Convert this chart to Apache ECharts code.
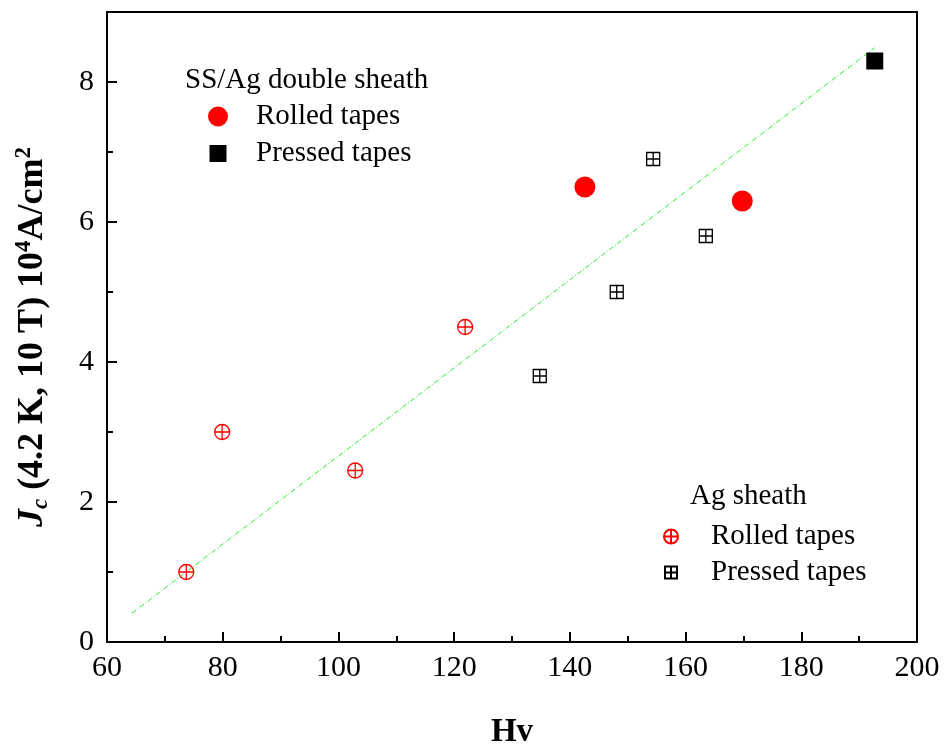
<!DOCTYPE html>
<html>
<head>
<meta charset="utf-8">
<script src="https://cdn.jsdelivr.net/npm/echarts@6/dist/echarts.min.js"></script>
<style>
  html, body { margin: 0; padding: 0; background: #fff; }
  #chart { width: 944px; height: 751px; }
</style>
</head>
<body>
<div id="chart"></div>
<script>
// data: [Hv, Jc]
const ssRolled = [[142.6, 6.5], [169.8, 6.3]]
const ssPressed = [[192.7, 8.3]]
const agRolled = [[73.7, 1.0], [79.9, 3.0], [102.9, 2.45], [121.9, 4.5]]
const agPressed = [[134.8, 3.8], [148.1, 5.0], [154.4, 6.9], [163.5, 5.8]]
const fitLine = [[64.3, 0.41], [192.7, 8.49]]
const xTicks = { min: 60, max: 200, step: 20 }
const yTicks = { min: 0, max: 9, step: 2 }

const FONT = 'Liberation Serif'
const crossCircle = 'path://M0,10A10,10 0 1,1 20,10A10,10 0 1,1 0,10ZM10,0L10,20M0,10L20,10'
const boxPlus = 'path://M0,0L20,0L20,20L0,20ZM10,0L10,20M0,10L20,10'

const chart = echarts.init(document.getElementById('chart'))

// one legend per entry so each icon keeps its own size; text starts at textX
function legendAt(name, cx, cy, size, textX) {
  return {
    data: [name], left: cx - size / 2, top: cy - 14, padding: 0, orient: 'vertical',
    itemWidth: size, itemHeight: size,
    selectedMode: false,
    formatter: n => n.replace(/^(SS\/Ag|Ag) /, ''),
    textStyle: {
      fontFamily: FONT, fontSize: 29, lineHeight: 28, color: '#000',
      padding: [0, 0, 0, textX - (cx + size / 2) - 5]
    }
  }
}

const option = {
  animation: false,
  backgroundColor: '#fff',
  textStyle: { fontFamily: FONT },
  grid: {
    left: 107, right: 27, top: 12, bottom: 109, outerBoundsMode: 'none',
    show: true, borderColor: '#000', borderWidth: 2
  },
  title: [
    { text: 'SS/Ag double sheath', left: 185, top: 66, padding: 0,
      textStyle: { fontFamily: FONT, fontSize: 29, lineHeight: 28, fontWeight: 'normal', color: '#000' } },
    { text: 'Ag sheath', left: 690, top: 482, padding: 0,
      textStyle: { fontFamily: FONT, fontSize: 29, lineHeight: 28, fontWeight: 'normal', color: '#000' } }
  ],
  legend: [
    legendAt('SS/Ag Rolled tapes', 218, 116, 20, 256),
    legendAt('SS/Ag Pressed tapes', 218, 153, 17, 256),
    legendAt('Ag Rolled tapes', 670, 536, 14, 710),
    legendAt('Ag Pressed tapes', 670, 572, 12, 710)
  ],
  xAxis: {
    type: 'value', min: xTicks.min, max: xTicks.max, interval: xTicks.step,
    name: 'Hv', nameLocation: 'middle', nameGap: 74,
    nameTextStyle: { fontFamily: FONT, fontSize: 33, fontWeight: 'bold', color: '#000' },
    axisLine: { lineStyle: { color: '#000', width: 2 } },
    axisTick: { inside: true, length: 10, lineStyle: { color: '#000', width: 2 } },
    minorTick: { show: true, splitNumber: 2, length: 6, lineStyle: { color: '#000', width: 2 } },
    axisLabel: { fontFamily: FONT, fontSize: 30, color: '#000', margin: 11 },
    splitLine: { show: false }
  },
  yAxis: [
    {
      type: 'value', min: yTicks.min, max: yTicks.max, interval: 1,
      name: '{j|J}{c|c}{n| (4.2 K, 10 T) 10}{s|4}{n|A/cm}{s|2}',
      nameLocation: 'middle', nameGap: 54, nameRotate: 90,
      nameTextStyle: {
        color: '#000',
        padding: [0, 20, 0, 0],
        rich: {
          j: { fontFamily: FONT, fontSize: 36, fontWeight: 'bold', fontStyle: 'italic', lineHeight: 40, color: '#000' },
          c: { fontFamily: FONT, fontSize: 23, fontWeight: 'bold', fontStyle: 'italic', lineHeight: 23, verticalAlign: 'bottom', color: '#000' },
          n: { fontFamily: FONT, fontSize: 36, fontWeight: 'bold', lineHeight: 40, color: '#000' },
          s: { fontFamily: FONT, fontSize: 23, fontWeight: 'bold', lineHeight: 23, verticalAlign: 'top', color: '#000' }
        }
      },
      axisLine: { lineStyle: { color: '#000', width: 2 } },
      axisTick: { inside: true, length: 6, lineStyle: { color: '#000', width: 2 } },
      axisLabel: {
        fontFamily: FONT, fontSize: 30, color: '#000', margin: 13,
        formatter: v => (v % yTicks.step === 0 ? String(v) : '')
      },
      splitLine: { show: false }
    },
    {
      type: 'value', min: yTicks.min, max: yTicks.max, interval: yTicks.step, position: 'left',
      axisLine: { show: false },
      axisTick: { inside: true, length: 10, lineStyle: { color: '#000', width: 2 } },
      axisLabel: { show: false },
      splitLine: { show: false }
    }
  ],
  series: [
    {
      name: 'fit', type: 'line', data: fitLine, symbol: 'none', z: 1,
      lineStyle: { color: '#22ee22', width: 1, type: [5, 2, 1, 2] }
    },
    {
      name: 'SS/Ag Rolled tapes', type: 'scatter', data: ssRolled,
      symbol: 'circle', symbolSize: 21, itemStyle: { color: '#ff0000', opacity: 1 }
    },
    {
      name: 'SS/Ag Pressed tapes', type: 'scatter', data: ssPressed,
      symbol: 'rect', symbolSize: 17, itemStyle: { color: '#000', opacity: 1 }
    },
    {
      name: 'Ag Rolled tapes', type: 'scatter', data: agRolled,
      symbol: crossCircle, symbolSize: 15,
      itemStyle: { color: 'rgba(0,0,0,0)', borderColor: '#ff0000', borderWidth: 1.3, opacity: 1 }
    },
    {
      name: 'Ag Pressed tapes', type: 'scatter', data: agPressed,
      symbol: boxPlus, symbolSize: 13,
      itemStyle: { color: 'rgba(0,0,0,0)', borderColor: '#000', borderWidth: 1.3, opacity: 1 }
    }
  ]
}

chart.setOption(option)
</script>
</body>
</html>
